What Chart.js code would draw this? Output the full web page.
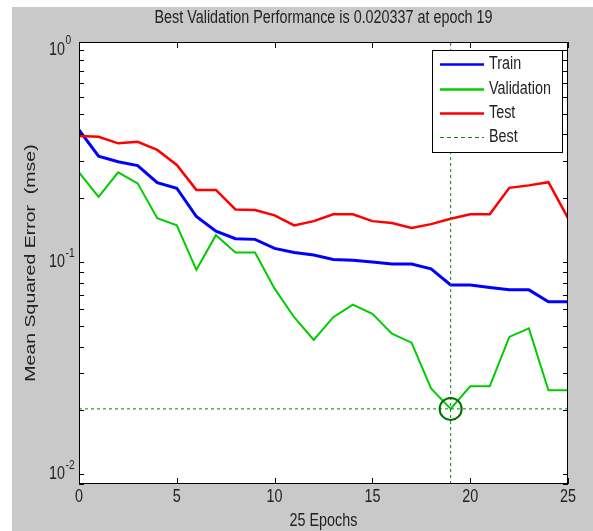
<!DOCTYPE html>
<html>
<head>
<meta charset="utf-8">
<script src="https://cdn.jsdelivr.net/npm/chart.js@4/dist/chart.umd.min.js"></script>
<style>
  html, body { margin: 0; padding: 0; background: #ffffff; }
  canvas { display: block; }
</style>
</head>
<body>
<canvas id="c" width="593" height="531"></canvas>
<script>
// ---- data ----
const epochs = [0,1,2,3,4,5,6,7,8,9,10,11,12,13,14,15,16,17,18,19,20,21,22,23,24,25];
const trainVals = [0.42,0.316,0.297,0.285,0.237,0.223,0.164,0.14,0.129,0.128,0.116,0.111,0.108,0.103,0.102,0.100,0.098,0.098,0.093,0.078,0.078,0.076,0.074,0.074,0.065,0.065];
const validationVals = [0.265,0.203,0.265,0.235,0.161,0.149,0.092,0.134,0.111,0.111,0.075,0.055,0.043,0.055,0.063,0.057,0.046,0.0417,0.0254,0.020337,0.026,0.026,0.0444,0.0487,0.0249,0.0249];
const testVals = [0.393,0.39,0.363,0.369,0.338,0.287,0.219,0.219,0.177,0.176,0.166,0.149,0.156,0.168,0.168,0.156,0.153,0.145,0.151,0.16,0.168,0.168,0.224,0.23,0.238,0.161];
const bestEpoch = 19;
const bestValue = 0.020337;
const xTicks = [0,5,10,15,20,25];
const yMajorTicks = [0.01, 0.1, 1];
const yMajorExps = ['-2', '-1', '0'];
const seriesLabels = ['Train', 'Validation', 'Test', 'Best'];
const titleText = 'Best Validation Performance is 0.020337 at epoch 19';
const xTitle = '25 Epochs';
const yTitle = 'Mean Squared Error  (mse)';
const xMin = 0, xMax = 25, yMin = 0.009, yMax = 1.09;

const toPts = (vals) => vals.map((v, i) => ({ x: epochs[i], y: v }));

const HS = 0.82;            // horizontal squeeze of the narrow MATLAB font
const FONT = '"Liberation Sans", Arial, sans-serif';
const TXT = '#222222';
const BESTC = '#008a00';

function txt(ctx, s, x, y, size, align, rot, sx) {
  ctx.save();
  ctx.translate(x, y);
  if (rot) ctx.rotate(rot);
  ctx.scale(sx || HS, 1);
  ctx.font = size + 'px ' + FONT;
  ctx.fillStyle = TXT;
  ctx.textAlign = align;
  ctx.textBaseline = 'middle';
  ctx.fillText(s, 0, 0);
  ctx.restore();
}

const matlabFrame = {
  id: 'matlabFrame',
  beforeDraw(chart) {
    const ctx = chart.ctx, a = chart.chartArea;
    ctx.save();
    ctx.fillStyle = '#ffffff';
    ctx.fillRect(0, 0, chart.width, chart.height);
    ctx.fillStyle = '#c9c9c9';
    ctx.fillRect(12, 7, chart.width - 12, chart.height - 7);
    ctx.fillStyle = '#ffffff';
    ctx.fillRect(a.left, a.top, a.right - a.left, a.bottom - a.top);
    ctx.restore();
  },
  afterDraw(chart) {
    const ctx = chart.ctx, a = chart.chartArea;
    const xs = chart.scales.x, ys = chart.scales.y;
    ctx.save();
    ctx.strokeStyle = '#000000';
    ctx.lineWidth = 1;
    // x ticks (bottom and top, inward)
    ctx.beginPath();
    xTicks.forEach(t => {
      const px = Math.round(xs.getPixelForValue(t)) + 0.5;
      ctx.moveTo(px, a.bottom); ctx.lineTo(px, a.bottom - 6);
      ctx.moveTo(px, a.top); ctx.lineTo(px, a.top + 6);
    });
    // y ticks (major + minor, left and right, inward)
    for (let e = -3; e <= 0; e++) {
      for (let m = 1; m <= 9; m++) {
        const v = m * Math.pow(10, e);
        if (v < yMin || v > yMax) continue;
        const py = Math.round(ys.getPixelForValue(v)) + 0.5;
        const len = 5;
        ctx.moveTo(a.left, py); ctx.lineTo(a.left + len, py);
        ctx.moveTo(a.right, py); ctx.lineTo(a.right - len, py);
      }
    }
    ctx.stroke();
    // box
    ctx.strokeRect(a.left + 0.5, a.top + 0.5, a.right - a.left - 1, a.bottom - a.top - 1);
    ctx.restore();

    // tick labels
    xTicks.forEach(t => txt(ctx, String(t), xs.getPixelForValue(t), 497, 17.5, 'center'));
    yMajorTicks.forEach((t, i) => {
      const py = ys.getPixelForValue(t);
      txt(ctx, '10', 49, py, 17.5, 'left');
      txt(ctx, yMajorExps[i], 65.5, py - 9, 12.5, 'left');
    });
    // titles
    txt(ctx, titleText, (a.left + a.right) / 2, 18, 17.5, 'center');
    txt(ctx, xTitle, (a.left + a.right) / 2, 521, 17.5, 'center');
    txt(ctx, yTitle, 31, (a.top + a.bottom) / 2, 15, 'center', -Math.PI / 2, 1.3);

    // legend
    const lx = 432, ly = 50, lw = 130, lh = 102;
    ctx.save();
    ctx.fillStyle = '#ffffff';
    ctx.fillRect(lx, ly, lw, lh);
    ctx.strokeStyle = '#000000';
    ctx.lineWidth = 1;
    ctx.strokeRect(lx + 0.5, ly + 0.5, lw, lh);
    const rows = [64, 89, 113, 137];
    for (let i = 0; i < 4; i++) {
      const ds = chart.data.datasets[i];
      ctx.beginPath();
      ctx.strokeStyle = ds.borderColor;
      ctx.lineWidth = i === 3 ? 1 : 2.5;
      ctx.setLineDash(i === 3 ? [4, 3] : []);
      ctx.moveTo(440, rows[i] + 0.5); ctx.lineTo(484, rows[i] + 0.5);
      ctx.stroke();
      ctx.setLineDash([]);
      txt(ctx, ds.label, 489, rows[i], 17.5, 'left');
    }
    ctx.restore();
  }
};

const chart = new Chart(document.getElementById('c'), {
  type: 'line',
  data: {
    datasets: [
      { label: seriesLabels[0], data: toPts(trainVals), borderColor: '#0000ff', borderWidth: 3, pointRadius: 0, tension: 0, order: 5 },
      { label: seriesLabels[1], data: toPts(validationVals), borderColor: '#00cc00', borderWidth: 2, pointRadius: 0, tension: 0, order: 4 },
      { label: seriesLabels[2], data: toPts(testVals), borderColor: '#ff0000', borderWidth: 2.5, pointRadius: 0, tension: 0, order: 3 },
      { label: seriesLabels[3], data: [{ x: xMin, y: bestValue }, { x: xMax, y: bestValue }], borderColor: BESTC, borderWidth: 1, borderDash: [3, 3], pointRadius: 0, order: 2 },
      { label: 'BestV', data: [{ x: bestEpoch, y: yMin }, { x: bestEpoch, y: yMax }], borderColor: BESTC, borderWidth: 1, borderDash: [3, 3], pointRadius: 0, order: 1 },
      { label: 'BestPt', data: [{ x: bestEpoch, y: bestValue }], showLine: false, pointStyle: 'circle', pointRadius: 11, pointBorderWidth: 2, pointBorderColor: '#006e00', pointBackgroundColor: 'rgba(0,0,0,0)', borderColor: '#006e00', order: 0 }
    ]
  },
  options: {
    responsive: false,
    animation: false,
    devicePixelRatio: 1,
    layout: { padding: { left: 79, right: 25, top: 42, bottom: 47 } },
    plugins: { legend: { display: false }, title: { display: false }, tooltip: { enabled: false } },
    scales: {
      x: { type: 'linear', min: xMin, max: xMax, display: false },
      y: { type: 'logarithmic', min: yMin, max: yMax, display: false }
    }
  },
  plugins: [matlabFrame]
});
</script>
</body>
</html>
